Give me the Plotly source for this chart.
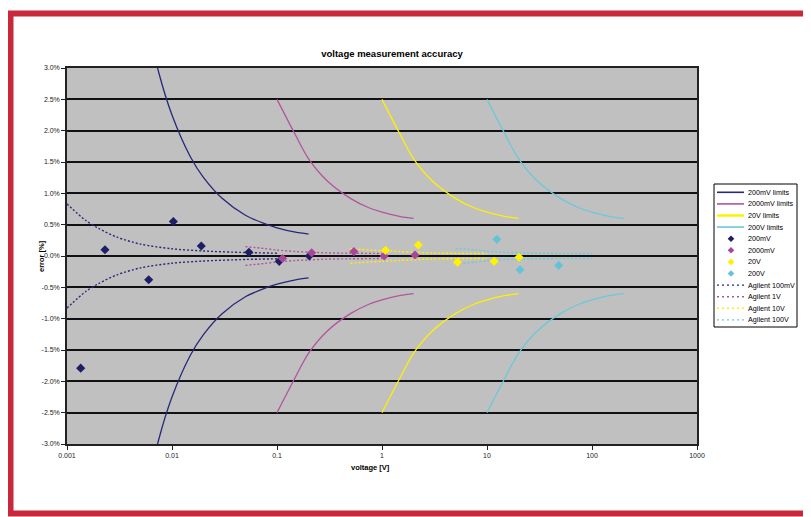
import plotly.graph_objects as go

# ---------------- data ----------------
# limit curves (upper branch; lower branch is the mirror)
lim200mV_V = [0.005, 0.0075, 0.01, 0.015, 0.02, 0.03, 0.05, 0.075, 0.1, 0.15, 0.2]
lim200mV_E = [4.25, 2.92, 2.25, 1.58, 1.25, 0.92, 0.65, 0.52, 0.45, 0.38, 0.35]

lim2000mV_V = [0.1, 0.15, 0.2, 0.3, 0.5, 0.75, 1, 1.5, 2]
lim2000mV_E = [2.5, 1.93, 1.55, 1.2, 0.92, 0.77, 0.7, 0.63, 0.6]

lim20V_V = [1, 1.5, 2, 3, 5, 7.5, 10, 15, 20]
lim20V_E = [2.5, 1.93, 1.55, 1.2, 0.92, 0.77, 0.7, 0.63, 0.6]

lim200V_V = [10, 15, 20, 30, 50, 75, 100, 150, 200]
lim200V_E = [2.5, 1.93, 1.55, 1.2, 0.92, 0.77, 0.7, 0.63, 0.6]

# measured points
pts200mV_V = [0.00135, 0.0023, 0.006, 0.0103, 0.019, 0.054, 0.105, 0.203]
pts200mV_E = [-1.79, 0.10, -0.38, 0.55, 0.16, 0.06, -0.085, 0.0]

pts2000mV_V = [0.113, 0.214, 0.54, 1.05, 2.06]
pts2000mV_E = [-0.04, 0.053, 0.07, 0.0, 0.015]

pts20V_V = [1.08, 2.22, 5.24, 11.7, 20.2]
pts20V_E = [0.09, 0.175, -0.10, -0.085, -0.02]

pts200V_V = [12.4, 20.6, 48.2]
pts200V_E = [0.266, -0.22, -0.15]

# Agilent accuracy (upper branch; lower branch mirrored)
ag100mV_V = [0.001, 0.0015, 0.002, 0.003, 0.005, 0.01, 0.02, 0.05, 0.1]
ag100mV_E = [0.83, 0.57, 0.44, 0.30, 0.19, 0.115, 0.08, 0.055, 0.045]

ag1V_V = [0.05, 0.075, 0.1, 0.15, 0.2, 0.3, 0.5, 1]
ag1V_E = [0.15, 0.12, 0.095, 0.072, 0.062, 0.05, 0.045, 0.04]

ag10V_V = [0.5, 0.75, 1, 1.5, 2, 3, 5, 10]
ag10V_E = [0.115, 0.095, 0.085, 0.07, 0.06, 0.048, 0.043, 0.04]

ag100V_V = [5, 7.5, 10, 15, 20, 30, 50, 100]
ag100V_E = [0.12, 0.10, 0.075, 0.058, 0.05, 0.045, 0.042, 0.04]

x_tickvals = [0.001, 0.01, 0.1, 1, 10, 100, 1000]
x_ticktext = ["0.001", "0.01", "0.1", "1", "10", "100", "1000"]
y_tickvals = [3.0, 2.5, 2.0, 1.5, 1.0, 0.5, 0.0, -0.5, -1.0, -1.5, -2.0, -2.5, -3.0]
y_ticktext = ["3.0%", "2.5%", "2.0%", "1.5%", "1.0%", "0.5%", "0.0%",
              "-0.5%", "-1.0%", "-1.5%", "-2.0%", "-2.5%", "-3.0%"]

# ---------------- styles ----------------
NAVY = "#27287A"
NAVY_M = "#1E1E66"
MAG = "#B2559E"
MAG_M = "#A8479A"
YEL = "#FFF000"
YEL_M = "#FFF200"
CYA = "#6CC8DA"
CYA_M = "#66C3D6"
FONT = "Liberation Sans, Arial, sans-serif"

W, H = 811, 517
OFF = 8  # page body margin: page coords = figure coords + OFF
# plot area in page pixels
PL, PR, PT, PB = 67, 697, 68, 444
L, R, T, B = PL - OFF, PR - OFF, PT - OFF, PB - OFF


def px(x):  # page x -> paper x
    return (x - PL) / (PR - PL)


def py(y):  # page y -> paper y
    return (PB - y) / (PB - PT)


def mirror(v, e):
    return list(v) + [None] + list(v), list(e) + [None] + [-x for x in e]


fig = go.Figure()

limits = [
    ("200mV limits", lim200mV_V, lim200mV_E, NAVY),
    ("2000mV limits", lim2000mV_V, lim2000mV_E, MAG),
    ("20V limits", lim20V_V, lim20V_E, YEL),
    ("200V limits", lim200V_V, lim200V_E, CYA),
]
for name, v, e, c in limits:
    xs, ys = mirror(v, e)
    fig.add_trace(go.Scatter(x=xs, y=ys, mode="lines", name=name,
                             line=dict(color=c, width=1.3, shape="spline", smoothing=0.8),
                             showlegend=False, connectgaps=False))

agil = [
    ("Agilent 100mV", ag100mV_V, ag100mV_E, NAVY),
    ("Agilent 1V", ag1V_V, ag1V_E, MAG),
    ("Agilent 10V", ag10V_V, ag10V_E, YEL),
    ("Agilent 100V", ag100V_V, ag100V_E, CYA),
]
for name, v, e, c in agil:
    xs, ys = mirror(v, e)
    fig.add_trace(go.Scatter(x=xs, y=ys, mode="lines", name=name,
                             line=dict(color=c, width=1.4, dash="2px,2px", shape="spline", smoothing=0.8),
                             showlegend=False, connectgaps=False))

points = [
    ("200mV", pts200mV_V, pts200mV_E, NAVY_M),
    ("2000mV", pts2000mV_V, pts2000mV_E, MAG_M),
    ("20V", pts20V_V, pts20V_E, YEL_M),
    ("200V", pts200V_V, pts200V_E, CYA_M),
]
for name, v, e, c in points:
    fig.add_trace(go.Scatter(x=v, y=e, mode="markers", name=name,
                             marker=dict(symbol="diamond", size=7, color=c, line=dict(width=0)),
                             showlegend=False, cliponaxis=False))

# ---------------- manual legend (Excel style, compact) ----------------
shapes = []
annotations = []
leg_x0, leg_x1, leg_y0, leg_y1 = 714, 797, 184, 327
shapes.append(dict(type="rect", xref="paper", yref="paper",
                   x0=px(leg_x0), x1=px(leg_x1), y0=py(leg_y0), y1=py(leg_y1),
                   line=dict(color="#000000", width=1), fillcolor="#FFFFFF", layer="above"))
row0, drow = 192.3, 11.6
entries = []
for name, v, e, c in limits:
    entries.append(("line", name, c))
for name, v, e, c in points:
    entries.append(("marker", name, c))
for name, v, e, c in agil:
    entries.append(("dot", name, c))
for i, (kind, name, c) in enumerate(entries):
    yy = row0 + i * drow
    if kind == "line":
        shapes.append(dict(type="line", xref="paper", yref="paper",
                           x0=px(717), x1=px(744), y0=py(yy), y1=py(yy),
                           line=dict(color=c, width=1.6 if c != YEL else 2.5), layer="above"))
    elif kind == "dot":
        shapes.append(dict(type="line", xref="paper", yref="paper",
                           x0=px(717), x1=px(744), y0=py(yy), y1=py(yy),
                           line=dict(color=c, width=1.4, dash="2px,3px"), layer="above"))
    else:
        cx, cy, r = px(731), py(yy), 3.3
        path = "M {},{} L {},{} L {},{} L {},{} Z".format(
            px(731 - r), cy, cx, py(yy - r), px(731 + r), cy, cx, py(yy + r))
        shapes.append(dict(type="path", xref="paper", yref="paper", path=path,
                           fillcolor=c, line=dict(width=0), layer="above"))
    annotations.append(dict(x=px(745.5), y=py(yy), xref="paper", yref="paper",
                            text=name, showarrow=False, xanchor="left", yanchor="middle",
                            font=dict(family=FONT, size=7.2, color="#000000")))

# red frame around the figure
shapes.append(dict(type="rect", xref="paper", yref="paper",
                   x0=px(10.5), x1=px(830), y0=py(13.5), y1=py(513.5),
                   line=dict(color="#C8283A", width=6), fillcolor="rgba(0,0,0,0)", layer="above"))

# axis titles
annotations.append(dict(x=px(370), y=py(467), xref="paper", yref="paper",
                        text="voltage [V]", showarrow=False, xanchor="center", yanchor="middle",
                        font=dict(family=FONT, size=7.5, color="#000000", weight="bold")))
annotations.append(dict(x=px(41), y=py(256), xref="paper", yref="paper",
                        text="error [%]", showarrow=False, xanchor="center", yanchor="middle",
                        textangle=-90,
                        font=dict(family=FONT, size=7.5, color="#000000", weight="bold")))

fig.update_layout(
    width=W, height=H,
    margin=dict(l=L, r=W - R, t=T, b=H - B, pad=0),
    paper_bgcolor="#FFFFFF",
    plot_bgcolor="#C0C0C0",
    showlegend=False,
    title=dict(text="voltage measurement accuracy", x=(392 - OFF) / W, xref="container", xanchor="center",
               y=1 - (54 - OFF) / H, yref="container", yanchor="middle",
               font=dict(family=FONT, size=9.5, color="#000000", weight="bold")),
    shapes=shapes,
    annotations=annotations,
    font=dict(family=FONT, size=7, color="#000000"),
)

fig.update_xaxes(type="log", range=[-3, 3], tickvals=x_tickvals, ticktext=x_ticktext,
                 showgrid=False, zeroline=False,
                 showline=True, mirror=True, linecolor="#222222", linewidth=1.5,
                 ticks="outside", ticklen=4, tickcolor="#222222", tickwidth=1,
                 tickfont=dict(family=FONT, size=7, color="#222222"))
fig.update_yaxes(range=[-3, 3], tickvals=y_tickvals, ticktext=y_ticktext,
                 showgrid=True, gridcolor="#111111", gridwidth=1.5, zeroline=False,
                 showline=True, mirror=True, linecolor="#222222", linewidth=1.5,
                 ticks="outside", ticklen=4, tickcolor="#222222", tickwidth=1,
                 tickfont=dict(family=FONT, size=7, color="#222222"))

fig.write_html("out.html")
